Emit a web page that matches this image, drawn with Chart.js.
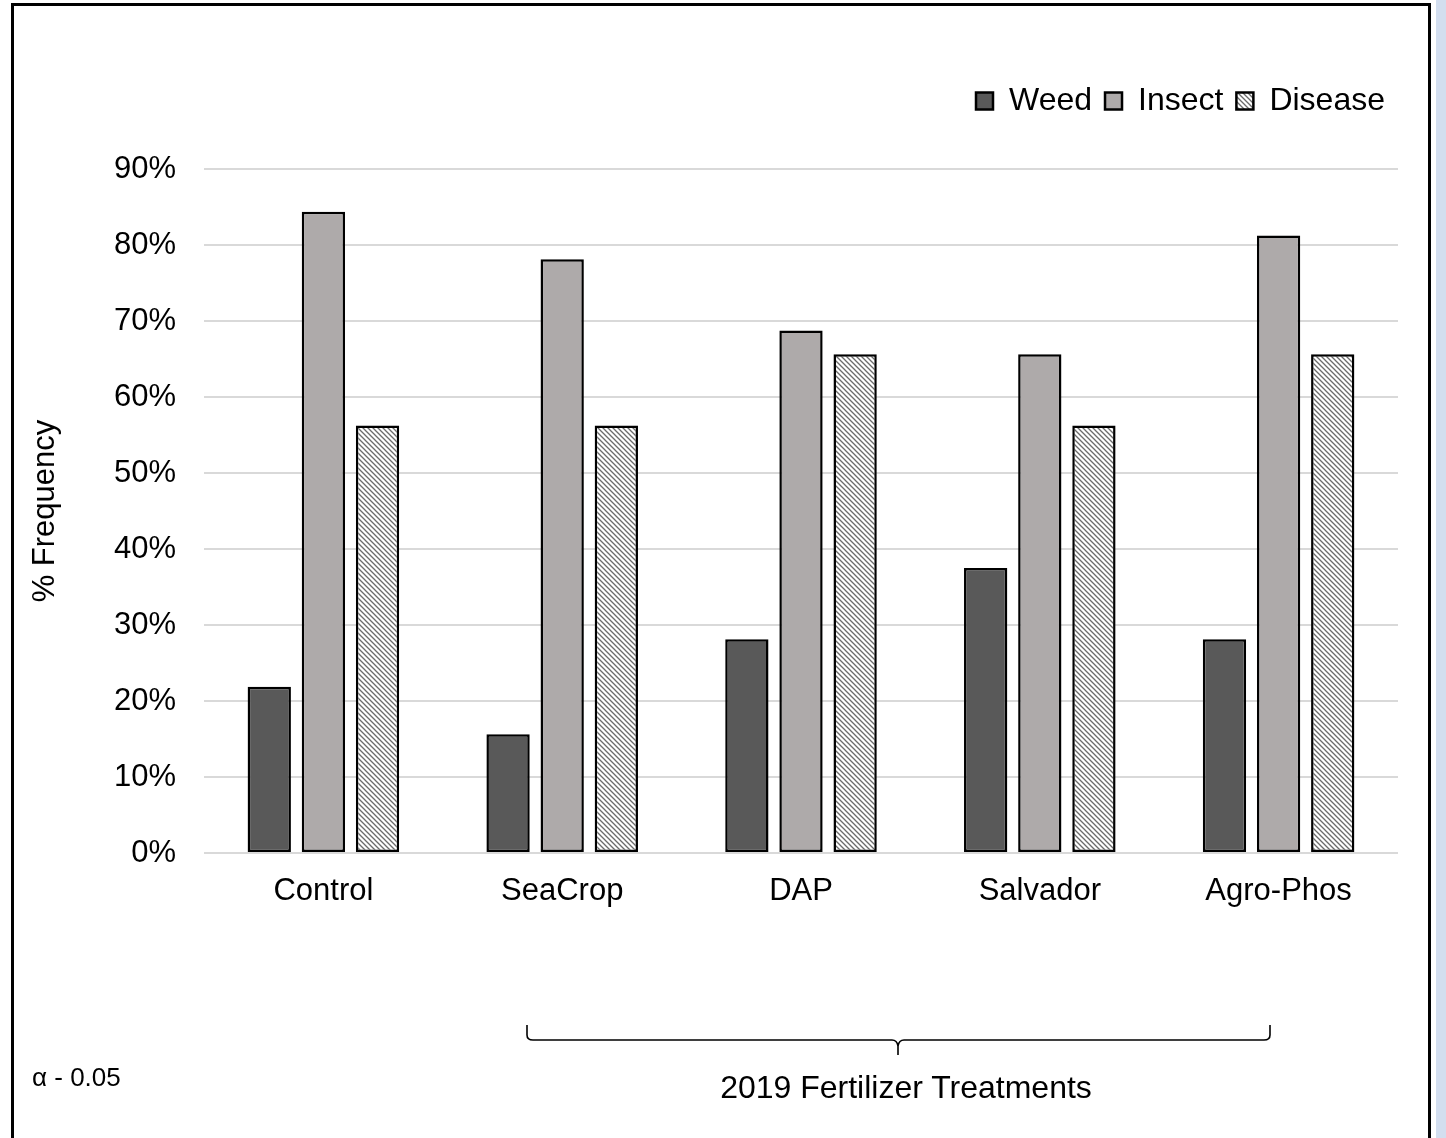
<!DOCTYPE html>
<html>
<head>
<meta charset="utf-8">
<script src="https://cdn.jsdelivr.net/npm/chart.js@4.4.1/dist/chart.umd.min.js"></script>
<style>
  html, body { margin: 0; padding: 0; background: #fff; }
  body { width: 1446px; height: 1138px; position: relative; overflow: hidden; font-family: Arial, "Liberation Sans", sans-serif; }
  #wrap { position: absolute; left: 0; top: 0; width: 1446px; height: 1138px; }
  #frame { position: absolute; left: 11px; top: 3px; width: 1420px; height: 1200px; border: 3px solid #000; box-sizing: border-box; pointer-events: none; }
  #side { position: absolute; left: 1436px; top: 0; width: 10px; height: 1138px; background: #d3deef; }
  .note { position: absolute; color: #000; white-space: nowrap; line-height: 1.15; }
  #alpha { left: 32px; top: 1063px; font-size: 26px; }
  #xtitle { left: 906px; top: 1069px; font-size: 32px; transform: translateX(-50%); }
  #brace { position: absolute; left: 0; top: 0; pointer-events: none; }
</style>
</head>
<body>
<div id="wrap"><canvas id="freqChart" width="1446" height="1138"></canvas></div>
<svg id="brace" width="1446" height="1138">
  <path d="M527 1025 L527 1035 Q527 1040 533 1040 L892 1040 Q897 1040 898 1046 L898 1055 M898 1046 Q899 1040 904 1040 L1264 1040 Q1270 1040 1270 1035 L1270 1025"
        fill="none" stroke="#000" stroke-width="1.6"/>
</svg>
<div id="alpha" class="note">α - 0.05</div>
<div id="xtitle" class="note">2019 Fertilizer Treatments</div>
<div id="side"></div>
<div id="frame"></div>

<script>
// treatments and pest frequencies (%)
const treatments = ['Control', 'SeaCrop', 'DAP', 'Salvador', 'Agro-Phos'];
const weed    = [21.875, 15.625, 28.125, 37.5, 28.125];
const insect  = [84.375, 78.125, 68.75, 65.625, 81.25];
const disease = [56.25, 56.25, 65.625, 56.25, 65.625];
const yTicks  = [0, 10, 20, 30, 40, 50, 60, 70, 80, 90];

Chart.defaults.font.family = "Arial, 'Liberation Sans', sans-serif";
Chart.defaults.color = '#000';

// diagonal hatch fill for the disease bars
function makeHatch() {
    const c = document.createElement('canvas');
    c.width = 5; c.height = 5;
    const g = c.getContext('2d');
    g.fillStyle = '#fff';
    g.fillRect(0, 0, 5, 5);
    g.strokeStyle = '#6b6b6b';
    g.lineWidth = 1.3;
    g.beginPath();
    g.moveTo(-1, -1); g.lineTo(6, 6);
    g.moveTo(-1, 4); g.lineTo(1, 6);
    g.moveTo(4, -1); g.lineTo(6, 1);
    g.stroke();
    return g.createPattern(c, 'repeat');
}

// keep the legend block a fixed height so the plot top lands where wanted
const legendHeight = {
    id: 'legendHeight',
    beforeInit(chart) {
        const fit = chart.legend.fit;
        chart.legend.fit = function () {
            fit.bind(chart.legend)();
            this.height = 97;
        };
    }
};

const barStyle = { borderColor: '#000', borderWidth: 2.5, borderSkipped: false };

new Chart(document.getElementById('freqChart').getContext('2d'), {
    type: 'bar',
    data: {
        labels: treatments,
        datasets: [
            { label: 'Weed', data: weed, backgroundColor: '#595959', ...barStyle },
            { label: 'Insect', data: insect, backgroundColor: '#aeaaaa', ...barStyle },
            { label: 'Disease', data: disease, backgroundColor: makeHatch(), ...barStyle }
        ]
    },
    options: {
        responsive: false,
        animation: false,
        categoryPercentage: 0.68,
        barPercentage: 0.8,
        layout: { padding: { top: 72, left: 27, right: 48, bottom: 0 } },
        plugins: {
            legend: {
                position: 'top',
                align: 'end',
                labels: {
                    boxWidth: 17,
                    boxHeight: 17,
                    padding: 13,
                    font: { size: 32 },
                    color: '#000'
                }
            },
            tooltip: { enabled: false }
        },
        scales: {
            x: {
                grid: { display: false, drawTicks: false },
                border: { display: false },
                ticks: { font: { size: 31 }, padding: 20, color: '#000' },
                afterFit(scale) { scale.height = 285; }
            },
            y: {
                min: 0,
                max: 90,
                afterBuildTicks(scale) { scale.ticks = yTicks.map(v => ({ value: v })); },
                grid: { color: '#d9d9d9', lineWidth: 2, drawTicks: false },
                border: { display: false },
                ticks: {
                    font: { size: 31 },
                    padding: 28,
                    color: '#000',
                    callback: v => v + '%'
                },
                title: {
                    display: true,
                    text: '% Frequency',
                    font: { size: 31 },
                    color: '#000',
                    padding: { top: 0, bottom: 0 }
                },
                afterFit(scale) { scale.width = 177; }
            }
        }
    },
    plugins: [legendHeight]
});
</script>
</body>
</html>
